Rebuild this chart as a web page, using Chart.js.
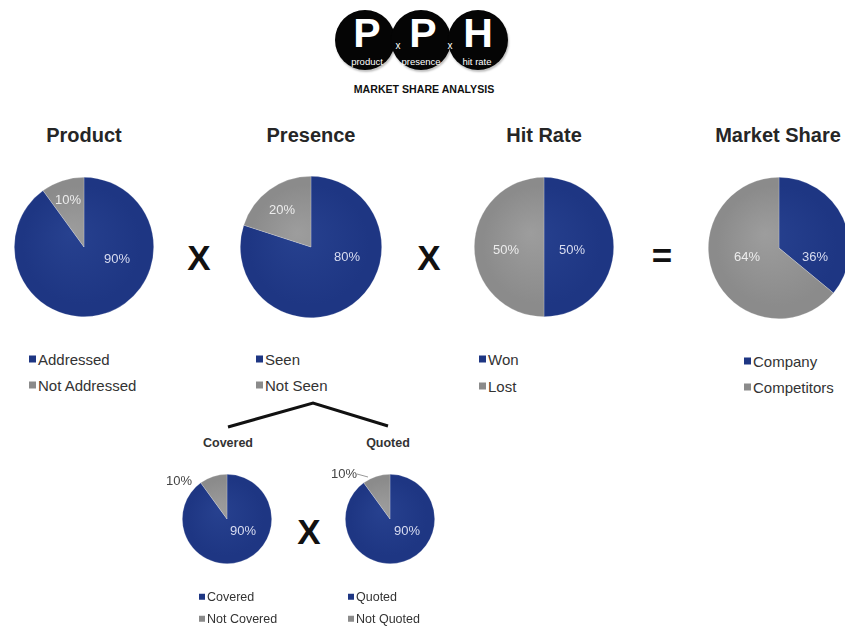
<!DOCTYPE html>
<html>
<head>
<meta charset="utf-8">
<script src="https://cdn.jsdelivr.net/npm/chart.js@4"></script>
<style>
  html,body{margin:0;padding:0;background:#fff;width:845px;height:627px;overflow:hidden;}
  body{position:relative;font-family:"Liberation Sans",Arial,sans-serif;color:#222;}
  .abs{position:absolute;}
  .c{position:absolute;transform:translate(-50%,-50%);white-space:nowrap;line-height:1;}
  .title{font-weight:bold;font-size:20px;color:#262626;}
  .op{font-weight:bold;font-size:35px;color:#111;}
  .sub{font-weight:bold;font-size:12.5px;color:#333;}
  .legend{position:absolute;color:#333;white-space:nowrap;line-height:1;}
  .legend .row{position:absolute;left:0;transform:translateY(-50%);display:flex;align-items:center;}
  .legend .sw{display:inline-block;margin-right:2px;}
  .circle{position:absolute;width:60px;height:60px;border-radius:50%;background:#050505;box-shadow:1px 2px 2px rgba(0,0,0,0.25);}
  .big{position:absolute;transform:translate(-50%,-50%);color:#fff;font-weight:bold;font-size:41px;line-height:1;}
  .small{position:absolute;transform:translate(-50%,-50%);color:#fff;font-size:9.5px;line-height:1;}
  canvas{position:absolute;}
</style>
</head>
<body>

<!-- Logo -->
<div class="circle" style="left:335px;top:10px;"></div>
<div class="circle" style="left:391px;top:10px;"></div>
<div class="circle" style="left:448px;top:10px;"></div>
<div class="big" style="left:367px;top:33px;">P</div>
<div class="big" style="left:423px;top:33px;">P</div>
<div class="big" style="left:478px;top:33px;">H</div>
<div class="small" style="left:367px;top:62px;">product</div>
<div class="small" style="left:421px;top:62px;">presence</div>
<div class="small" style="left:477px;top:62px;">hit rate</div>
<div class="small" style="left:398px;top:46px;font-size:10px;">x</div>
<div class="small" style="left:450px;top:46px;font-size:10px;">x</div>
<div class="c" style="left:424px;top:89px;font-weight:bold;font-size:10.6px;color:#111;">MARKET SHARE ANALYSIS</div>

<!-- Titles -->
<div class="c title" style="left:84px;top:135px;">Product</div>
<div class="c title" style="left:311px;top:135px;">Presence</div>
<div class="c title" style="left:544px;top:135px;">Hit Rate</div>
<div class="c title" style="left:778px;top:135px;">Market Share</div>

<!-- Operators -->
<div class="c op" style="left:199px;top:257px;">X</div>
<div class="c op" style="left:429px;top:257px;">X</div>
<div class="c op" style="left:662px;top:255px;">=</div>
<div class="c op" style="left:309px;top:531px;">X</div>

<!-- Tree -->
<svg class="abs" style="left:0;top:0;" width="845" height="627">
  <polyline points="228,427 313,403 388,426" fill="none" stroke="#111" stroke-width="3" stroke-linejoin="miter"/>
</svg>
<div class="c sub" style="left:228px;top:443px;">Covered</div>
<div class="c sub" style="left:388px;top:443px;">Quoted</div>

<canvas id="cProduct"></canvas>
<canvas id="cPresence"></canvas>
<canvas id="cHit"></canvas>
<canvas id="cMarket"></canvas>
<canvas id="cCovered"></canvas>
<canvas id="cQuoted"></canvas>

<div id="lProduct" class="legend"></div>
<div id="lPresence" class="legend"></div>
<div id="lHit" class="legend"></div>
<div id="lMarket" class="legend"></div>
<div id="lCovered" class="legend"></div>
<div id="lQuoted" class="legend"></div>

<script>
// ---- Data ----
const productLabels  = ['Addressed', 'Not Addressed'];
const productValues  = [90, 10];
const presenceLabels = ['Seen', 'Not Seen'];
const presenceValues = [80, 20];
const hitLabels      = ['Won', 'Lost'];
const hitValues      = [50, 50];
const marketLabels   = ['Company', 'Competitors'];
const marketValues   = [36, 64];
const coveredLabels  = ['Covered', 'Not Covered'];
const coveredValues  = [90, 10];
const quotedLabels   = ['Quoted', 'Not Quoted'];
const quotedValues   = [90, 10];

// ---- Styles ----
const BLUE = '#1e3683';
const GRAY = '#8b8b8b';
const BLUE_HI = '#27418f';
const GRAY_HI = '#9d9d9d';

function sliceFill(ctx) {
  const chart = ctx.chart;
  const base = ctx.dataIndex === 0 ? BLUE : GRAY;
  const hi = ctx.dataIndex === 0 ? BLUE_HI : GRAY_HI;
  const a = chart.chartArea;
  if (!a) return base;
  const cx = (a.left + a.right) / 2, cy = (a.top + a.bottom) / 2;
  const r = Math.min(a.right - a.left, a.bottom - a.top) / 2;
  const g = chart.ctx.createRadialGradient(cx - r * 0.2, cy - r * 0.2, 0, cx, cy, r);
  g.addColorStop(0, hi);
  g.addColorStop(0.85, base);
  g.addColorStop(1, base);
  return g;
}

const sliceLabels = {
  id: 'sliceLabels',
  afterDatasetsDraw(chart, args, opts) {
    const meta = chart.getDatasetMeta(0);
    const ctx = chart.ctx;
    const values = chart.data.datasets[0].data;
    ctx.save();
    ctx.textAlign = 'center';
    ctx.textBaseline = 'middle';
    meta.data.forEach((arc, i) => {
      const o = opts.items[i];
      if (!o) return;
      const x = arc.x + o.dx, y = arc.y + o.dy;
      if (o.leader) {
        ctx.strokeStyle = '#999';
        ctx.lineWidth = 1;
        ctx.beginPath();
        ctx.moveTo(arc.x + o.leader[0][0], arc.y + o.leader[0][1]);
        ctx.lineTo(arc.x + o.leader[1][0], arc.y + o.leader[1][1]);
        ctx.stroke();
      }
      ctx.font = (o.size || 13) + 'px "Liberation Sans", Arial, sans-serif';
      ctx.fillStyle = o.color;
      ctx.fillText(values[i] + '%', x, y);
    });
    ctx.restore();
  }
};

function makePie(id, cx, cy, r, pad, labels, values, items) {
  const cv = document.getElementById(id);
  const size = 2 * r + 2 * pad;
  cv.width = size; cv.height = size;
  cv.style.left = (cx - r - pad) + 'px';
  cv.style.top = (cy - r - pad) + 'px';
  return new Chart(cv, {
    type: 'pie',
    data: {
      labels: labels,
      datasets: [{
        data: values,
        backgroundColor: sliceFill,
        borderWidth: 0.6,
        borderColor: 'rgba(255,255,255,0.35)'
      }]
    },
    options: {
      responsive: false,
      animation: false,
      layout: { padding: pad },
      plugins: {
        legend: { display: false },
        tooltip: { enabled: false },
        sliceLabels: { items: items }
      }
    },
    plugins: [sliceLabels]
  });
}

function makeLegend(id, left, rows, labels, fontSize, sq) {
  const el = document.getElementById(id);
  el.style.left = left + 'px';
  el.style.top = '0px';
  el.style.fontSize = fontSize + 'px';
  const cols = [BLUE, GRAY];
  labels.forEach((lab, i) => {
    const row = document.createElement('div');
    row.className = 'row';
    row.style.top = rows[i] + 'px';
    const sw = document.createElement('span');
    sw.className = 'sw';
    sw.style.width = sq + 'px';
    sw.style.height = sq + 'px';
    sw.style.background = cols[i];
    const tx = document.createElement('span');
    tx.textContent = lab;
    row.appendChild(sw);
    row.appendChild(tx);
    el.appendChild(row);
  });
}

const LB = '#d8dcf0', LG = '#ececec';

makePie('cProduct', 84, 247, 70, 2, productLabels, productValues,
  [{dx: 33, dy: 12, color: LB}, {dx: -16, dy: -47, color: LG}]);
makePie('cPresence', 311, 247, 71, 2, presenceLabels, presenceValues,
  [{dx: 36, dy: 10, color: LB}, {dx: -29, dy: -37, color: LG}]);
makePie('cHit', 544, 247, 70, 2, hitLabels, hitValues,
  [{dx: 28, dy: 3, color: LB}, {dx: -38, dy: 3, color: LG}]);
makePie('cMarket', 779, 248, 71, 2, marketLabels, marketValues,
  [{dx: 36, dy: 9, color: LB}, {dx: -32, dy: 9, color: LG}]);
makePie('cCovered', 227, 519, 45, 30, coveredLabels, coveredValues,
  [{dx: 16, dy: 12, color: LB}, {dx: -48, dy: -38, color: '#444'}]);
makePie('cQuoted', 390, 519, 45, 30, quotedLabels, quotedValues,
  [{dx: 17, dy: 12, color: LB}, {dx: -46, dy: -45, color: '#444', leader: [[-33, -45], [-22, -42]]}]);

makeLegend('lProduct', 29, [359, 385], productLabels, 15, 7);
makeLegend('lPresence', 256, [359, 385], presenceLabels, 15, 7);
makeLegend('lHit', 479, [359, 386], hitLabels, 15, 7);
makeLegend('lMarket', 744, [361, 387], marketLabels, 15, 7);
makeLegend('lCovered', 199, [597, 619], coveredLabels, 12.5, 6);
makeLegend('lQuoted', 348, [597, 619], quotedLabels, 12.5, 6);
</script>
</body>
</html>
